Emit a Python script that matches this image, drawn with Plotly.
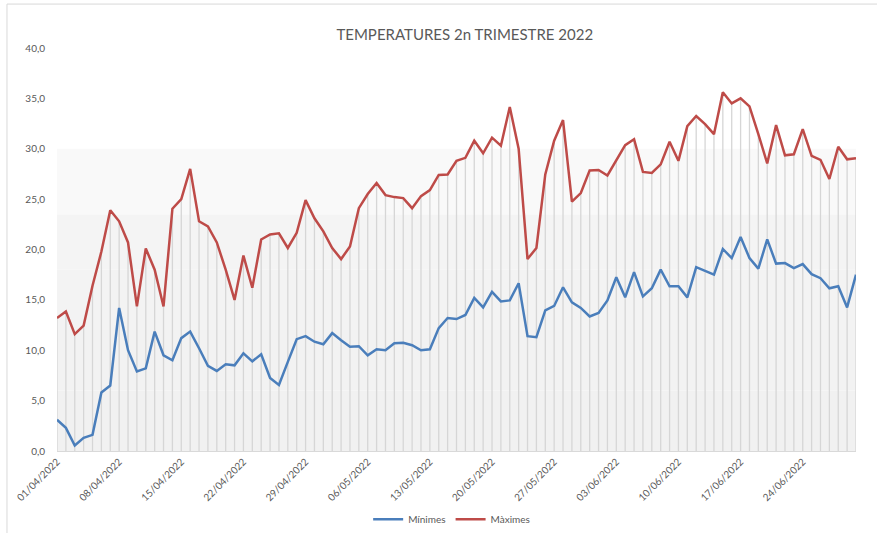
import plotly.graph_objects as go
import pandas as pd

dates = pd.date_range("2022-04-01", "2022-06-30", freq="D").strftime("%Y-%m-%d").tolist()

maximes = [13.2, 13.85, 11.6, 12.45, 16.4, 19.8, 23.9, 22.8, 20.7, 14.35,
           20.1, 18.0, 14.35, 24.05, 25.0, 28.0, 22.8, 22.3, 20.7, 18.0,
           15.0, 19.4, 16.2, 21.0, 21.5, 21.6, 20.15, 21.65, 24.9, 23.1,
           21.8, 20.15, 19.05, 20.3, 24.1, 25.5, 26.6, 25.4, 25.2, 25.1,
           24.1, 25.3, 25.9, 27.4, 27.45, 28.8, 29.1, 30.8, 29.55, 31.1,
           30.3, 34.15, 30.0, 19.05, 20.15, 27.45, 30.8, 32.85, 24.75, 25.6,
           27.85, 27.9, 27.35, 28.8, 30.35, 30.95, 27.7, 27.6, 28.45, 30.7,
           28.8, 32.25, 33.25, 32.45, 31.45, 35.6, 34.5, 35.0, 34.2, 31.45,
           28.55, 32.35, 29.35, 29.45, 31.95, 29.3, 28.9, 27.0, 30.2, 28.95,
           29.05]

minimes = [3.1, 2.3, 0.55, 1.3, 1.6, 5.8, 6.5, 14.2, 10.0, 7.9,
           8.2, 11.85, 9.5, 9.0, 11.2, 11.85, 10.2, 8.45, 7.95, 8.6,
           8.5, 9.7, 8.9, 9.6, 7.25, 6.55, 8.85, 11.1, 11.4, 10.85,
           10.6, 11.7, 11.0, 10.35, 10.4, 9.5, 10.1, 10.0, 10.7, 10.75,
           10.5, 10.0, 10.1, 12.2, 13.2, 13.1, 13.5, 15.2, 14.25, 15.8,
           14.85, 14.95, 16.65, 11.4, 11.3, 13.95, 14.4, 16.25, 14.75, 14.2,
           13.35, 13.7, 14.95, 17.25, 15.25, 17.75, 15.35, 16.15, 18.0, 16.35,
           16.35, 15.25, 18.25, 17.9, 17.5, 20.05, 19.15, 21.25, 19.15, 18.1,
           21.0, 18.6, 18.65, 18.15, 18.55, 17.55, 17.15, 16.15, 16.35, 14.25,
           17.5]

tick_dates = dates[::7]
tick_labels = pd.to_datetime(tick_dates).strftime("%d/%m/%Y").tolist()

FONT = "Lato"
GREY = "#595959"

fig = go.Figure()

# background gradient bands (0 -> 30)
bands = [(0, 6, "#f1f1f1"), (6, 12, "#f2f2f2"), (12, 18, "#f3f3f3"),
         (18, 23.5, "#f4f4f4"), (23.5, 30, "#f9f9f9")]
for y0, y1, c in bands:
    fig.add_shape(type="rect", xref="x", yref="y", x0=dates[0], x1=dates[-1],
                  y0=y0, y1=y1, fillcolor=c, line_width=0, layer="below")

# drop lines from max series down to axis
fig.add_trace(go.Scatter(
    x=dates, y=maximes, mode="markers", marker=dict(size=0.1, color="rgba(0,0,0,0)"),
    error_y=dict(type="data", symmetric=False, array=[0] * len(maximes),
                 arrayminus=maximes, color="#d6d6d6", thickness=1.3, width=0),
    showlegend=False, hoverinfo="skip"))

fig.add_trace(go.Scatter(x=dates, y=minimes, mode="lines", name="Mínimes",
                         line=dict(color="#4a7ebb", width=2.5)))
fig.add_trace(go.Scatter(x=dates, y=maximes, mode="lines", name="Màximes",
                         line=dict(color="#be4b48", width=2.5)))

# chart border (left and top)
fig.add_shape(type="line", xref="paper", yref="paper", x0=-0.0626, x1=-0.0626,
              y0=-0.3, y1=1.109, line=dict(color="#d9d9d9", width=1))
fig.add_shape(type="line", xref="paper", yref="paper", x0=-0.0626, x1=1.1,
              y0=1.109, y1=1.109, line=dict(color="#d9d9d9", width=1))

fig.update_layout(
    width=877, height=533,
    margin=dict(l=57, r=21, t=48, b=82, autoexpand=False),
    paper_bgcolor="white", plot_bgcolor="white",
    separators=",.",
    font=dict(family=FONT, color=GREY, size=10),
    title=dict(text="TEMPERATURES 2n TRIMESTRE 2022", x=0.53, xanchor="center",
               y=0.934, yanchor="middle", font=dict(size=15, color=GREY, family=FONT)),
    showlegend=True,
    legend=dict(orientation="h", x=0.515, xanchor="center", xref="container",
                y=0.026, yanchor="middle", yref="container",
                font=dict(size=10, color=GREY), itemwidth=30, bgcolor="rgba(0,0,0,0)"),
    xaxis=dict(type="date", range=[dates[0], dates[-1]], tickmode="array",
               tickvals=tick_dates, ticktext=tick_labels, tickangle=-45,
               automargin=False,
               showgrid=False, zeroline=False, showline=True, linecolor="#d9d9d9",
               linewidth=1, ticks="", tickfont=dict(size=10, color=GREY)),
    yaxis=dict(range=[0, 40], dtick=5, tick0=0, tickformat=".1f", showgrid=False,
               automargin=False,
               zeroline=False, showline=False, ticks="", ticklabelstandoff=11,
               tickfont=dict(size=10, color=GREY)),
)

fig.write_html("out.html", config={"displayModeBar": False},
               post_script="document.body.style.margin='0';document.body.style.overflow='hidden';")
